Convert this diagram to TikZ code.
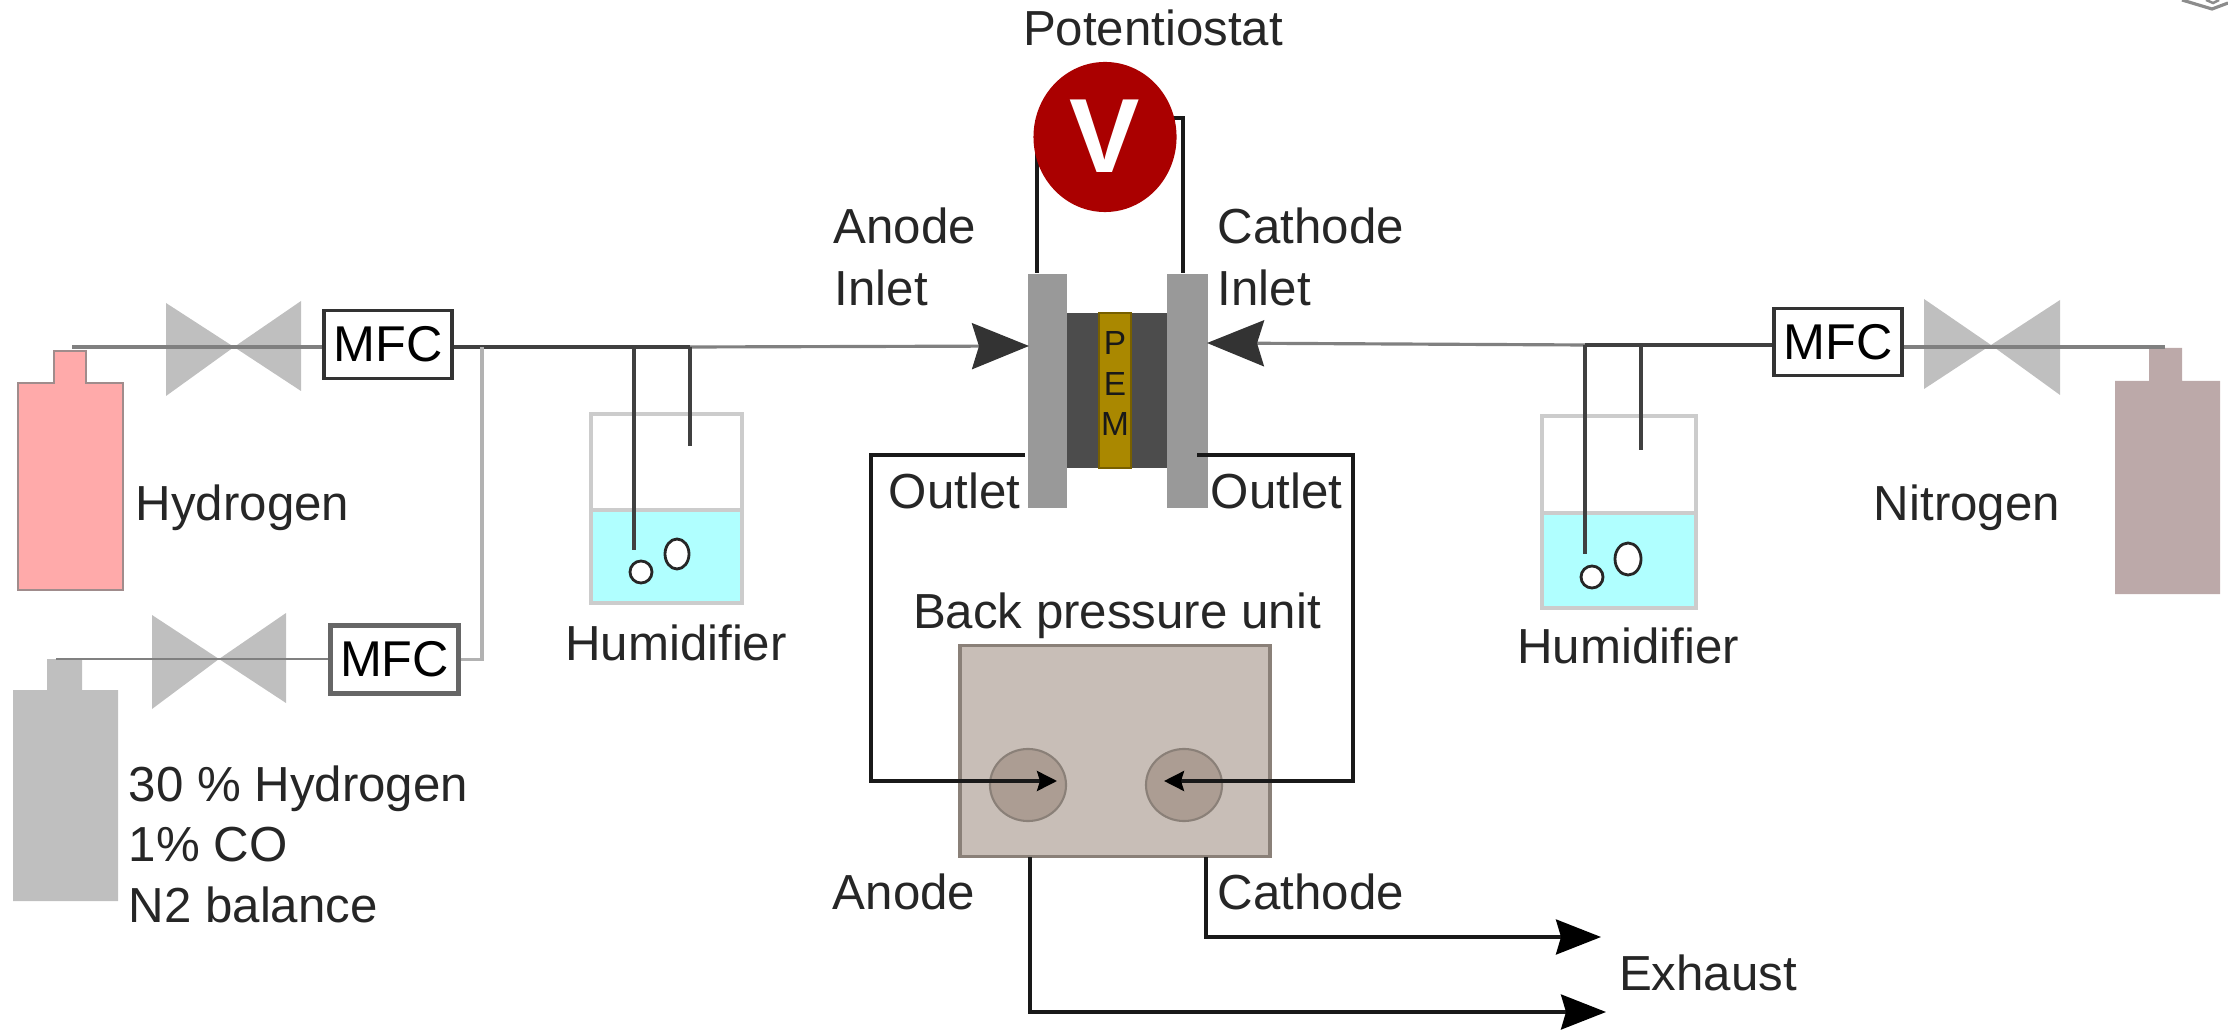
\documentclass[tikz,border=0pt]{standalone}
\usepackage{fontspec}
\setmainfont{Liberation Sans}
\usetikzlibrary{arrows.meta}
\usetikzlibrary{shapes.geometric}
\definecolor{hpink}{HTML}{FFAAAA}
\definecolor{hedge}{HTML}{A08C8C}
\definecolor{ngray}{HTML}{BCA9A9}
\definecolor{water}{HTML}{B0FFFF}
\definecolor{vred}{HTML}{AA0000}
\definecolor{pemgold}{HTML}{AA8800}
\definecolor{bpfill}{HTML}{C8BEB7}
\definecolor{bpedge}{HTML}{8A8078}
\definecolor{portfill}{HTML}{AC9D93}
\tikzset{txt/.style = {font=\fontsize{14}{16}\selectfont,text=black!85,inner sep=0pt,text height=10pt,text depth=0pt}}
\tikzset{pemtxt/.style = {font=\fontsize{9.5}{11}\selectfont,text=black!90,inner sep=0pt}}
\tikzset{mfc/.style = {shape=rectangle,draw=black!80,fill=white,line width=1pt,minimum width=1.28cm,minimum height=0.68cm,inner sep=0pt,font=\fontsize{14.3}{16}\selectfont}}
\tikzset{block/.style = {shape=rectangle,inner sep=0pt}}
\tikzset{plate/.style = {block,fill=black!40,minimum width=0.39cm,minimum height=2.34cm}}
\tikzset{valveshape/.style = {fill=black!25}}
\tikzset{pipe/.style = {line width=0.9pt,draw=black!50}}
\tikzset{darkpipe/.style = {line width=0.9pt,draw=black!75}}
\tikzset{wire/.style = {line width=0.9pt,draw=black!90,-}}
\tikzset{jar/.style = {draw=black!20,line width=1pt}}
\tikzset{bubble/.style = {shape=ellipse,draw=black!85,fill=white,line width=0.8pt,inner sep=0pt}}
\tikzset{port/.style = {shape=ellipse,fill=portfill,draw=bpedge,line width=0.6pt,minimum width=0.76cm,minimum height=0.72cm,inner sep=0pt}}
\tikzset{bigtip/.style = {-{Stealth[length=0.57cm,width=0.46cm,inset=0.07cm,color=black!80]}}}
\tikzset{outtip/.style = {-{Stealth[length=0.45cm,width=0.35cm,inset=0.05cm,color=black]}}}
\tikzset{porttip/.style = {-{Stealth[length=0.2cm,width=0.2cm,inset=0.03cm,color=black]}}}
\begin{document}
\begin{tikzpicture}[x=0.01cm,y=-0.01cm]
\useasboundingbox (0,0) rectangle (2228,1031);
% bottles
\fill[hpink,draw=hedge,line width=0.8pt] (54,383) -- (54,351) -- (86,351) -- (86,383) -- (123,383) -- (123,590) -- (18,590) -- (18,383) -- cycle;
\fill[black!25] (47,690) -- (47,659) -- (82,659) -- (82,690) -- (118,690) -- (118,901) -- (13,901) -- (13,690) -- cycle;
\fill[ngray] (2149,381) -- (2149,348) -- (2182,348) -- (2182,381) -- (2220,381) -- (2220,594) -- (2115,594) -- (2115,381) -- cycle;
% valves
\fill[valveshape] (166,303) -- (234,347) -- (301,301) -- (301,391) -- (234,347) -- (166,396) -- cycle;
\fill[valveshape] (152,615) -- (219,659) -- (286,613) -- (286,703) -- (219,659) -- (152,709) -- cycle;
\fill[valveshape] (1924,299) -- (1991,345) -- (2060,300) -- (2060,395) -- (1991,345) -- (1924,389) -- cycle;
% humidifiers
\fill[water] (591,510) rectangle (742,603);
\draw[jar] (591,414) rectangle (742,603);
\draw[jar] (591,510) -- (742,510);
\fill[water] (1542,513) rectangle (1696,608);
\draw[jar] (1542,416) rectangle (1696,608);
\draw[jar] (1542,513) -- (1696,513);
% mfc boxes
\node[mfc] (mfca) at (388,344.5) {MFC};
\node[mfc,draw=black!60,line width=1.3pt] (mfcb) at (394.5,659.5) {MFC};
\node[mfc,minimum height=0.67cm] (mfcc) at (1838,342) {MFC};
% cell
\node[block,fill=black!70,minimum width=1.02cm,minimum height=1.55cm] (gdl) at (1116,390.5) {};
\node[block,fill=pemgold,draw=pemgold!70!black,minimum width=0.32cm,minimum height=1.55cm] (pem) at (1115,390.5) {};
\node[plate] (anode) at (1047.5,391) {};
\node[plate,minimum width=0.41cm] (cathode) at (1187.5,391) {};
\node[pemtxt] (p) at (1115,343) {P};
\node[pemtxt] (e) at (1115,384) {E};
\node[pemtxt] (m) at (1115,424) {M};
% leads, under the meter
\coordinate (wa) at (1037,120);
\coordinate (wb) at (1160,118);
\coordinate (wc) at (1183,118);
\draw[wire] (wa) -- (wa |- anode.north);
\draw[wire] (wb) -- (wc) -- (wc |- cathode.north);
% potentiostat
\node[shape=ellipse,fill=vred,minimum width=1.43cm,minimum height=1.5cm,inner sep=0pt] (volt) at (1105,137) {};
\node[font=\bfseries\fontsize{30}{32}\selectfont,text=white,inner sep=0pt] (vlabel) at (1105,136) {V};
% back pressure unit
\node[block,fill=bpfill,draw=bpedge,line width=1pt,minimum width=3.1cm,minimum height=2.11cm] (bp) at (1115,751) {};
\node[port] (porta) at (1028,785) {};
\node[port] (portc) at (1184,785) {};
% bubbles
\node[bubble,minimum width=0.22cm,minimum height=0.22cm] (ba) at (641,572) {};
\node[bubble,minimum width=0.24cm,minimum height=0.3cm] (bb) at (677,554) {};
\node[bubble,minimum width=0.22cm,minimum height=0.22cm] (bc) at (1592,577) {};
\node[bubble,minimum width=0.26cm,minimum height=0.32cm] (bd) at (1628,559) {};
% junctions and free ends
\coordinate (ha) at (72,347);
\coordinate (hb) at (56,659);
\coordinate (hc) at (2165,347);
\coordinate (ja) at (634,347);
\coordinate (jb) at (690,347);
\coordinate (jc) at (1585,345);
\coordinate (jd) at (1641,345);
\coordinate (ea) at (634,550);
\coordinate (eb) at (690,446);
\coordinate (ec) at (1585,554);
\coordinate (ed) at (1641,450);
\coordinate (sp) at (482,347);
\coordinate (tipa) at (1029,346);
\coordinate (tipc) at (1207,343);
\coordinate (oa) at (1025,455);
\coordinate (oc) at (1197,455);
\coordinate (ca) at (871,455);
\coordinate (cc) at (1353,455);
\coordinate (ia) at (1057,781);
\coordinate (ic) at (1164,781);
\coordinate (xa) at (1030,857);
\coordinate (xc) at (1206,857);
\coordinate (enda) at (1606,1012);
\coordinate (endc) at (1601,937);
% edges
\draw[pipe] (ha) -- (ha -| mfca.west);
\draw[pipe,line width=0.7pt] (hb) -- (hb -| mfcb.west);
\draw[pipe] (hc) -- (hc -| mfcc.east);
\draw[darkpipe] (ha -| mfca.east) -- (jb);
\draw[pipe,bigtip] (jb) -- (tipa);
\draw[pipe,bigtip] (jc) -- (tipc);
\draw[darkpipe] (jc) -- (jc -| mfcc.west);
\draw[black!30,line width=0.9pt] (sp) |- (mfcb.east);
\draw[darkpipe] (ja) -- (ea);
\draw[darkpipe] (jb) -- (eb);
\draw[darkpipe] (jc) -- (ec);
\draw[darkpipe] (jd) -- (ed);
\draw[wire,porttip] (oa) -- (ca) |- (ia);
\draw[wire,porttip] (oc) -- (cc) |- (ic);
\draw[wire,outtip] (xa) |- (enda);
\draw[wire,outtip] (xc) |- (endc);
% labels
\node[txt] (lpot) at (1153,28) {Potentiostat};
\node[txt,anchor=west] (lai) at (833,226) {Anode};
\node[txt,anchor=west] (lin) at (834,288) {Inlet};
\node[txt,anchor=west] (lci) at (1217,226) {Cathode};
\node[txt,anchor=west] (lio) at (1217,288) {Inlet};
\node[txt,anchor=west] (lo1) at (888,491) {Outlet};
\node[txt,anchor=west] (lo2) at (1210,491) {Outlet};
\node[txt,anchor=west] (lh) at (135,503) {Hydrogen};
\node[txt] (lh1) at (676,643) {Humidifier};
\node[txt] (lh2) at (1628,646) {Humidifier};
\node[txt] (ln) at (1967,503) {Nitrogen};
\node[txt,anchor=west] (lm1) at (128,784) {30 \% Hydrogen};
\node[txt,anchor=west] (lm2) at (128,844) {1\% CO};
\node[txt,anchor=west] (lm3) at (128,905) {N2 balance};
\node[txt] (lbp) at (1117,611) {Back pressure unit};
\node[txt] (lan) at (904,892) {Anode};
\node[txt,anchor=west] (lca) at (1217,892) {Cathode};
\node[txt] (lex) at (1708,973) {Exhaust};
% corner
\draw[black!45,line width=0.9pt] (2182,0) -- (2212,9) -- (2228,3);
\draw[black!45,line width=0.7pt] (2206,0) -- (2213,3) -- (2219,0);
\end{tikzpicture}
\end{document}
